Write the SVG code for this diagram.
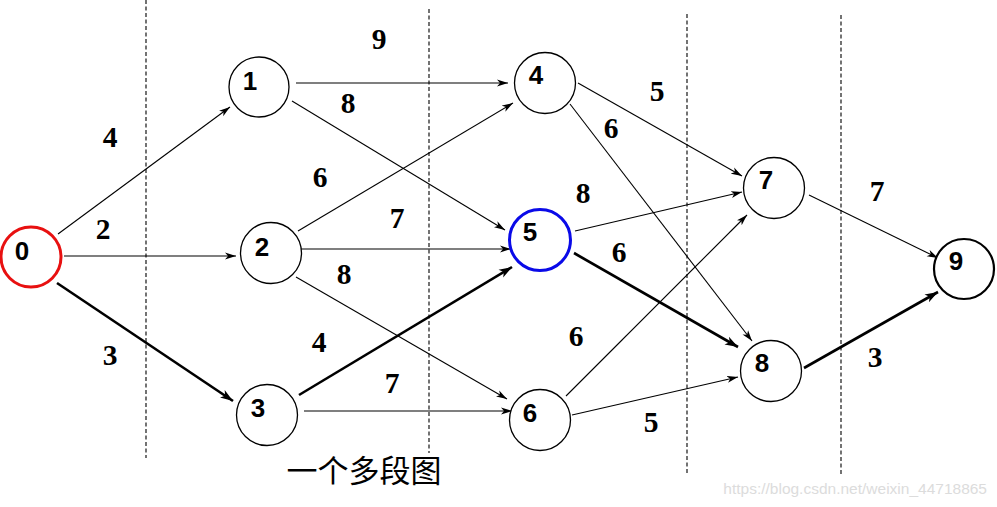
<svg xmlns="http://www.w3.org/2000/svg" width="997" height="507" viewBox="0 0 997 507">
<style>
.node{fill:#fff;stroke:#000;stroke-width:1.3}
.nl{font-family:"Liberation Sans",Arial,sans-serif;font-weight:bold;font-size:26px;text-anchor:middle;fill:#000}
.w{font-family:"Liberation Serif","Times New Roman",serif;font-weight:bold;font-size:29.5px;text-anchor:middle;fill:#000}
.e{stroke:#000;stroke-width:1.1;fill:none;marker-end:url(#a)}
.t{stroke:#000;stroke-width:2.6;fill:none;marker-end:url(#b)}
.d{stroke:#000;stroke-width:1.1;stroke-dasharray:4,2.5}
</style>
<defs>
<marker id="a" markerUnits="userSpaceOnUse" markerWidth="12" markerHeight="8" refX="11" refY="4" orient="auto">
<path d="M0,0.5 L11,4 L0,7.5 L3,4 z" fill="#000"/>
</marker>
<marker id="b" markerUnits="userSpaceOnUse" markerWidth="14" markerHeight="10" refX="13" refY="5" orient="auto">
<path d="M0,0.5 L13,5 L0,9.5 L3.5,5 z" fill="#000"/>
</marker>
</defs>
<rect width="997" height="507" fill="#fff"/>
<g id="dashed">
<line class="d" x1="146" y1="0" x2="146" y2="458"/>
<line class="d" x1="429" y1="9" x2="429" y2="453"/>
<line class="d" x1="687" y1="14" x2="687" y2="473"/>
<line class="d" x1="841" y1="15" x2="841" y2="475"/>
</g>
<g id="connectors">
<line class="e" x1="58" y1="234" x2="230" y2="107"/>
<line class="e" x1="64" y1="256" x2="236" y2="256"/>
<line class="t" x1="57" y1="283" x2="233" y2="401"/>
<line class="e" x1="296" y1="83" x2="508" y2="83"/>
<line class="e" x1="292" y1="101" x2="505" y2="230"/>
<line class="e" x1="298" y1="231" x2="513" y2="103"/>
<line class="e" x1="300" y1="249" x2="511" y2="249"/>
<line class="e" x1="296" y1="277" x2="507" y2="399"/>
<line class="t" x1="299" y1="395" x2="512" y2="267"/>
<line class="e" x1="304" y1="411" x2="512" y2="411"/>
<line class="e" x1="578" y1="83" x2="742" y2="176"/>
<line class="e" x1="570" y1="104" x2="752" y2="341"/>
<line class="e" x1="575" y1="231" x2="742" y2="192"/>
<line class="t" x1="574" y1="253" x2="738" y2="347"/>
<line class="e" x1="566" y1="396" x2="747" y2="215"/>
<line class="e" x1="572" y1="415" x2="738" y2="377"/>
<line class="e" x1="809" y1="195" x2="938" y2="258"/>
<line class="t" x1="804" y1="368" x2="938" y2="292"/>
</g>
<g id="weights">
<text class="w" x="110" y="147">4</text>
<text class="w" x="103" y="239">2</text>
<text class="w" x="110" y="365">3</text>
<text class="w" x="379" y="49">9</text>
<text class="w" x="348" y="113">8</text>
<text class="w" x="320" y="187">6</text>
<text class="w" x="397" y="228">7</text>
<text class="w" x="344" y="284">8</text>
<text class="w" x="319" y="352">4</text>
<text class="w" x="392" y="393">7</text>
<text class="w" x="657" y="101">5</text>
<text class="w" x="611" y="138">6</text>
<text class="w" x="583" y="203">8</text>
<text class="w" x="619" y="262">6</text>
<text class="w" x="576" y="346">6</text>
<text class="w" x="651" y="432">5</text>
<text class="w" x="877" y="201">7</text>
<text class="w" x="875" y="367">3</text>
</g>
<g id="n0"><circle cx="31" cy="257" r="30" fill="#fff" stroke="#e81010" stroke-width="3"/><text class="nl" x="22" y="260">0</text></g>
<g id="n1"><circle class="node" cx="259" cy="87" r="30"/><text class="nl" x="250" y="90">1</text></g>
<g id="n2"><circle class="node" cx="271" cy="253" r="30.5"/><text class="nl" x="262" y="256">2</text></g>
<g id="n3"><circle class="node" cx="267" cy="415" r="30.5"/><text class="nl" x="258" y="417">3</text></g>
<g id="n4"><circle class="node" cx="545" cy="83" r="30.5"/><text class="nl" x="536" y="84">4</text></g>
<g id="n5"><circle cx="540" cy="240" r="30.5" fill="#fff" stroke="#0a0ae8" stroke-width="3"/><text class="nl" x="530" y="241">5</text></g>
<g id="n6"><circle class="node" cx="540" cy="420" r="30.5"/><text class="nl" x="530" y="422">6</text></g>
<g id="n7"><circle class="node" cx="774" cy="188" r="30.5"/><text class="nl" x="766" y="189">7</text></g>
<g id="n8"><circle class="node" cx="771" cy="371" r="30.5"/><text class="nl" x="762" y="372">8</text></g>
<g id="n9"><circle cx="964" cy="269" r="30" fill="#fff" stroke="#000" stroke-width="2.2"/><text class="nl" x="956" y="270">9</text></g>
<text x="364" y="482" font-family="'Noto Sans CJK SC',sans-serif" font-size="31" text-anchor="middle" fill="#000">一个多段图</text>
<text x="987" y="494" font-family="'Liberation Sans',Arial,sans-serif" font-size="15.5" text-anchor="end" fill="#dcdcdc">https://blog.csdn.net/weixin_44718865</text>
</svg>
